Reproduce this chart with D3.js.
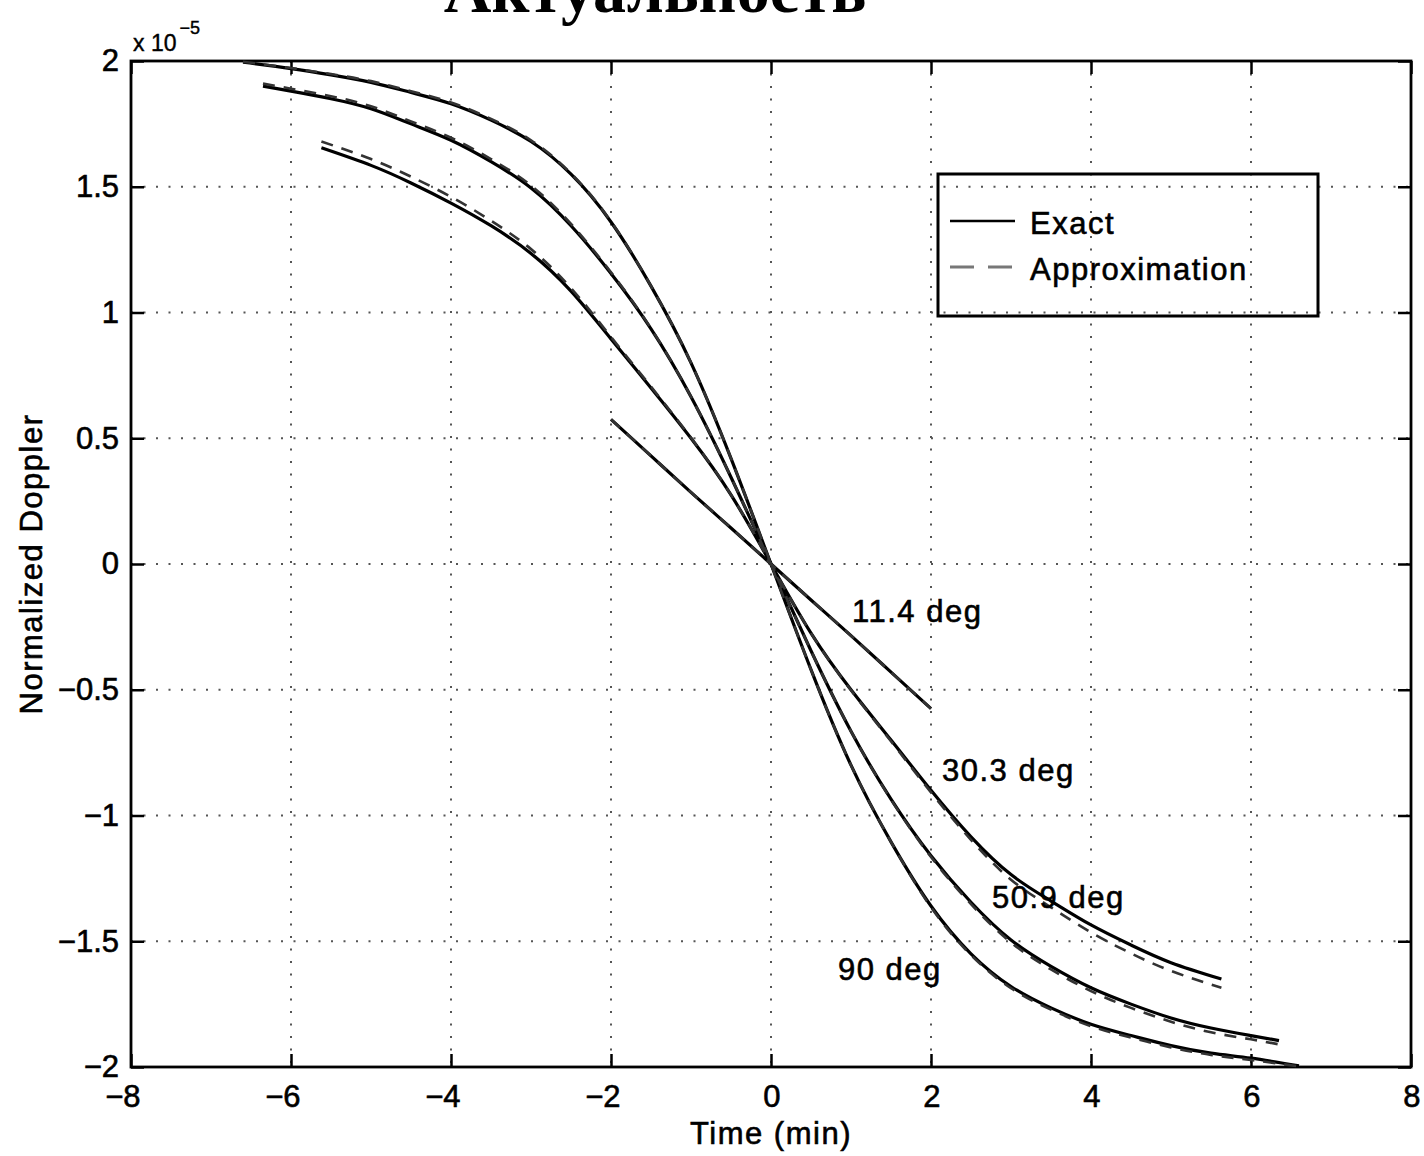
<!DOCTYPE html>
<html>
<head>
<meta charset="utf-8">
<script src="https://cdn.jsdelivr.net/npm/d3@7"></script>
<style>
  body { margin: 0; background: #fff; }
  text { font-family: "Liberation Sans", Arial, Helvetica, sans-serif; fill: #000; }
  .tick-label { font-size: 31px; stroke: #000; stroke-width: 0.6px; }
  .label { font-size: 31px; letter-spacing: 1.5px; stroke: #000; stroke-width: 0.6px; }
</style>
</head>
<body>
<div id="chart"></div>
<script>
const xTicks = [-8, -6, -4, -2, 0, 2, 4, 6, 8];
const xTickLabels = ['−8', '−6', '−4', '−2', '0', '2', '4', '6', '8'];
const yTicks = [-2, -1.5, -1, -0.5, 0, 0.5, 1, 1.5, 2];
const yTickLabels = ['−2', '−1.5', '−1', '−0.5', '0', '0.5', '1', '1.5', '2'];

// normalized doppler, in units of 1e-5
const time90 = [-6.6, -6, -5.5, -5, -4.5, -4, -3.5, -3, -2.5, -2, -1.5, -1, -0.5, 0, 0.5, 1, 1.5, 2, 2.5, 3, 3.5, 4, 4.5, 5, 5.5, 6, 6.6];
const exact90 = [1.995, 1.97, 1.945, 1.915, 1.875, 1.83, 1.765, 1.68, 1.55, 1.36, 1.105, 0.80, 0.42, 0, -0.42, -0.80, -1.105, -1.36, -1.55, -1.68, -1.765, -1.83, -1.875, -1.915, -1.945, -1.965, -1.995];
const approx90 = [1.997, 1.972, 1.948, 1.92, 1.88, 1.835, 1.77, 1.685, 1.553, 1.362, 1.105, 0.80, 0.42, 0, -0.42, -0.80, -1.105, -1.365, -1.555, -1.687, -1.772, -1.838, -1.883, -1.922, -1.952, -1.972, -1.998];

const time51 = [-6.35, -6, -5.5, -5, -4.5, -4, -3.5, -3, -2.5, -2, -1.5, -1, -0.5, 0, 0.5, 1, 1.5, 2, 2.5, 3, 3.5, 4, 4.5, 5, 5.5, 6, 6.35];
const exact51 = [1.90, 1.88, 1.85, 1.81, 1.75, 1.685, 1.60, 1.495, 1.345, 1.155, 0.935, 0.665, 0.345, 0, -0.345, -0.665, -0.935, -1.16, -1.345, -1.495, -1.60, -1.685, -1.75, -1.805, -1.845, -1.875, -1.895];
const approx51 = [1.91, 1.89, 1.86, 1.82, 1.76, 1.695, 1.61, 1.505, 1.352, 1.16, 0.937, 0.665, 0.345, 0, -0.345, -0.665, -0.937, -1.165, -1.352, -1.505, -1.612, -1.698, -1.765, -1.82, -1.862, -1.89, -1.91];

const time30 = [-5.62, -5, -4.5, -4, -3.5, -3, -2.5, -2, -1.5, -1, -0.5, 0, 0.5, 1, 1.5, 2, 2.5, 3, 3.5, 4, 4.5, 5, 5.63];
const exact30 = [1.655, 1.585, 1.515, 1.435, 1.345, 1.235, 1.085, 0.895, 0.70, 0.50, 0.275, 0, -0.275, -0.50, -0.70, -0.90, -1.085, -1.235, -1.34, -1.435, -1.515, -1.585, -1.65];
const approx30 = [1.68, 1.61, 1.54, 1.46, 1.365, 1.252, 1.097, 0.903, 0.705, 0.502, 0.275, 0, -0.275, -0.502, -0.705, -0.908, -1.097, -1.255, -1.365, -1.465, -1.548, -1.618, -1.685];

const time11 = [-2, -1.5, -1, -0.5, 0, 0.5, 1, 1.5, 2];
const exact11 = [0.575, 0.43, 0.285, 0.143, 0, -0.143, -0.285, -0.43, -0.575];
const approx11 = [0.575, 0.43, 0.285, 0.143, 0, -0.143, -0.285, -0.43, -0.575];

const curveNames = ['11.4 deg', '30.3 deg', '50.9 deg', '90 deg'];
const legendNames = ['Exact', 'Approximation'];

const series = [
  {time: time90, exact: exact90, approx: approx90},
  {time: time51, exact: exact51, approx: approx51},
  {time: time30, exact: exact30, approx: approx30},
  {time: time11, exact: exact11, approx: approx11}
];

const width = 1424;
const height = 1156;
const plot = {left: 131, right: 1411, top: 61, bottom: 1067};

const svg = d3.select('#chart')
  .append('svg')
    .attr('width', width)
    .attr('height', height);

// title, cut off at the top edge as in the scan
svg.append('text')
  .attr('x', 655)
  .attr('y', 12)
  .attr('text-anchor', 'middle')
  .style('font-family', '"Liberation Serif", "Times New Roman", serif')
  .style('font-weight', 'bold')
  .style('font-size', '66px')
  .text('Актуальность');

const x = d3.scaleLinear().domain([-8, 8]).range([plot.left, plot.right]);
const y = d3.scaleLinear().domain([-2, 2]).range([plot.bottom, plot.top]);

// dotted grid
const grid = svg.append('g')
  .attr('stroke', '#555')
  .attr('stroke-width', 2)
  .attr('stroke-dasharray', '2 10.5');
grid.selectAll('.vgrid')
  .data(xTicks.slice(1, -1))
  .join('line')
    .attr('x1', d => x(d)).attr('x2', d => x(d))
    .attr('y1', plot.top).attr('y2', plot.bottom);
grid.selectAll('.hgrid')
  .data(yTicks.slice(1, -1))
  .join('line')
    .attr('y1', d => y(d)).attr('y2', d => y(d))
    .attr('x1', plot.left).attr('x2', plot.right);

// axes with inward ticks on all four sides
const xAxis = svg.append('g')
  .attr('transform', `translate(0, ${plot.bottom})`)
  .call(d3.axisBottom(x).tickValues(xTicks).tickSize(-13).tickPadding(18)
    .tickFormat((d, i) => xTickLabels[i]));
xAxis.selectAll('text')
  .attr('class', 'tick-label')
  .attr('text-anchor', 'end')
  .attr('dx', 9);

const yAxis = svg.append('g')
  .attr('transform', `translate(${plot.left}, 0)`)
  .call(d3.axisLeft(y).tickValues(yTicks).tickSize(-13).tickPadding(12)
    .tickFormat((d, i) => yTickLabels[i]));
yAxis.selectAll('text').attr('class', 'tick-label');

svg.append('g')
  .attr('transform', `translate(0, ${plot.top})`)
  .call(d3.axisTop(x).tickValues(xTicks).tickSize(-13).tickFormat(''));
svg.append('g')
  .attr('transform', `translate(${plot.right}, 0)`)
  .call(d3.axisRight(y).tickValues(yTicks).tickSize(-13).tickFormat(''));

svg.selectAll('.domain').remove();
svg.selectAll('.tick line').attr('stroke', '#000').attr('stroke-width', 2.5);

svg.append('rect')
  .attr('x', plot.left).attr('y', plot.top)
  .attr('width', plot.right - plot.left).attr('height', plot.bottom - plot.top)
  .attr('fill', 'none')
  .attr('stroke', '#000')
  .attr('stroke-width', 2.8);

// curves
const line = d3.line().curve(d3.curveNatural);

svg.append('g')
  .selectAll('.exact')
  .data(series)
  .join('path')
    .attr('class', 'exact')
    .attr('fill', 'none')
    .attr('stroke', '#000')
    .attr('stroke-width', 3.2)
    .attr('d', s => line(s.time.map((t, i) => [x(t), y(s.exact[i])])));

svg.append('g')
  .selectAll('.approx')
  .data(series)
  .join('path')
    .attr('class', 'approx')
    .attr('fill', 'none')
    .attr('stroke', '#333')
    .attr('stroke-width', 2.6)
    .attr('stroke-dasharray', '12 9')
    .attr('d', s => line(s.time.map((t, i) => [x(t), y(s.approx[i])])));

// curve annotations
const annotations = [
  {text: curveNames[0], x: 852, y: 622},
  {text: curveNames[1], x: 942, y: 781},
  {text: curveNames[2], x: 992, y: 908},
  {text: curveNames[3], x: 838, y: 980}
];
svg.append('g')
  .selectAll('text')
  .data(annotations)
  .join('text')
    .attr('class', 'label')
    .attr('x', d => d.x)
    .attr('y', d => d.y)
    .text(d => d.text);

// legend
const legend = svg.append('g');
legend.append('rect')
  .attr('x', 938).attr('y', 174)
  .attr('width', 380).attr('height', 142)
  .attr('fill', 'none')
  .attr('stroke', '#000')
  .attr('stroke-width', 3);
legend.append('line')
  .attr('x1', 950).attr('x2', 1015)
  .attr('y1', 221).attr('y2', 221)
  .attr('stroke', '#000').attr('stroke-width', 2.5);
legend.append('line')
  .attr('x1', 950).attr('x2', 1015)
  .attr('y1', 267).attr('y2', 267)
  .attr('stroke', '#777').attr('stroke-width', 3)
  .attr('stroke-dasharray', '24 14');
legend.append('text')
  .attr('class', 'label')
  .attr('x', 1030).attr('y', 234)
  .text(legendNames[0]);
legend.append('text')
  .attr('class', 'label')
  .attr('x', 1030).attr('y', 280)
  .text(legendNames[1]);

// axis labels
svg.append('text')
  .attr('class', 'label')
  .attr('x', x(0))
  .attr('y', 1144)
  .attr('text-anchor', 'middle')
  .text('Time (min)');
svg.append('text')
  .attr('class', 'label')
  .attr('transform', `translate(42, ${y(0)}) rotate(-90)`)
  .attr('text-anchor', 'middle')
  .text('Normalized Doppler');

// exponent
const expo = svg.append('text')
  .attr('x', 133)
  .attr('y', 51)
  .style('font-size', '23px')
  .style('stroke', '#000')
  .style('stroke-width', '0.4px');
expo.append('tspan').text('x 10');
expo.append('tspan')
  .attr('dy', -17)
  .attr('dx', 3)
  .style('font-size', '18px')
  .text('−5');
</script>
</body>
</html>
